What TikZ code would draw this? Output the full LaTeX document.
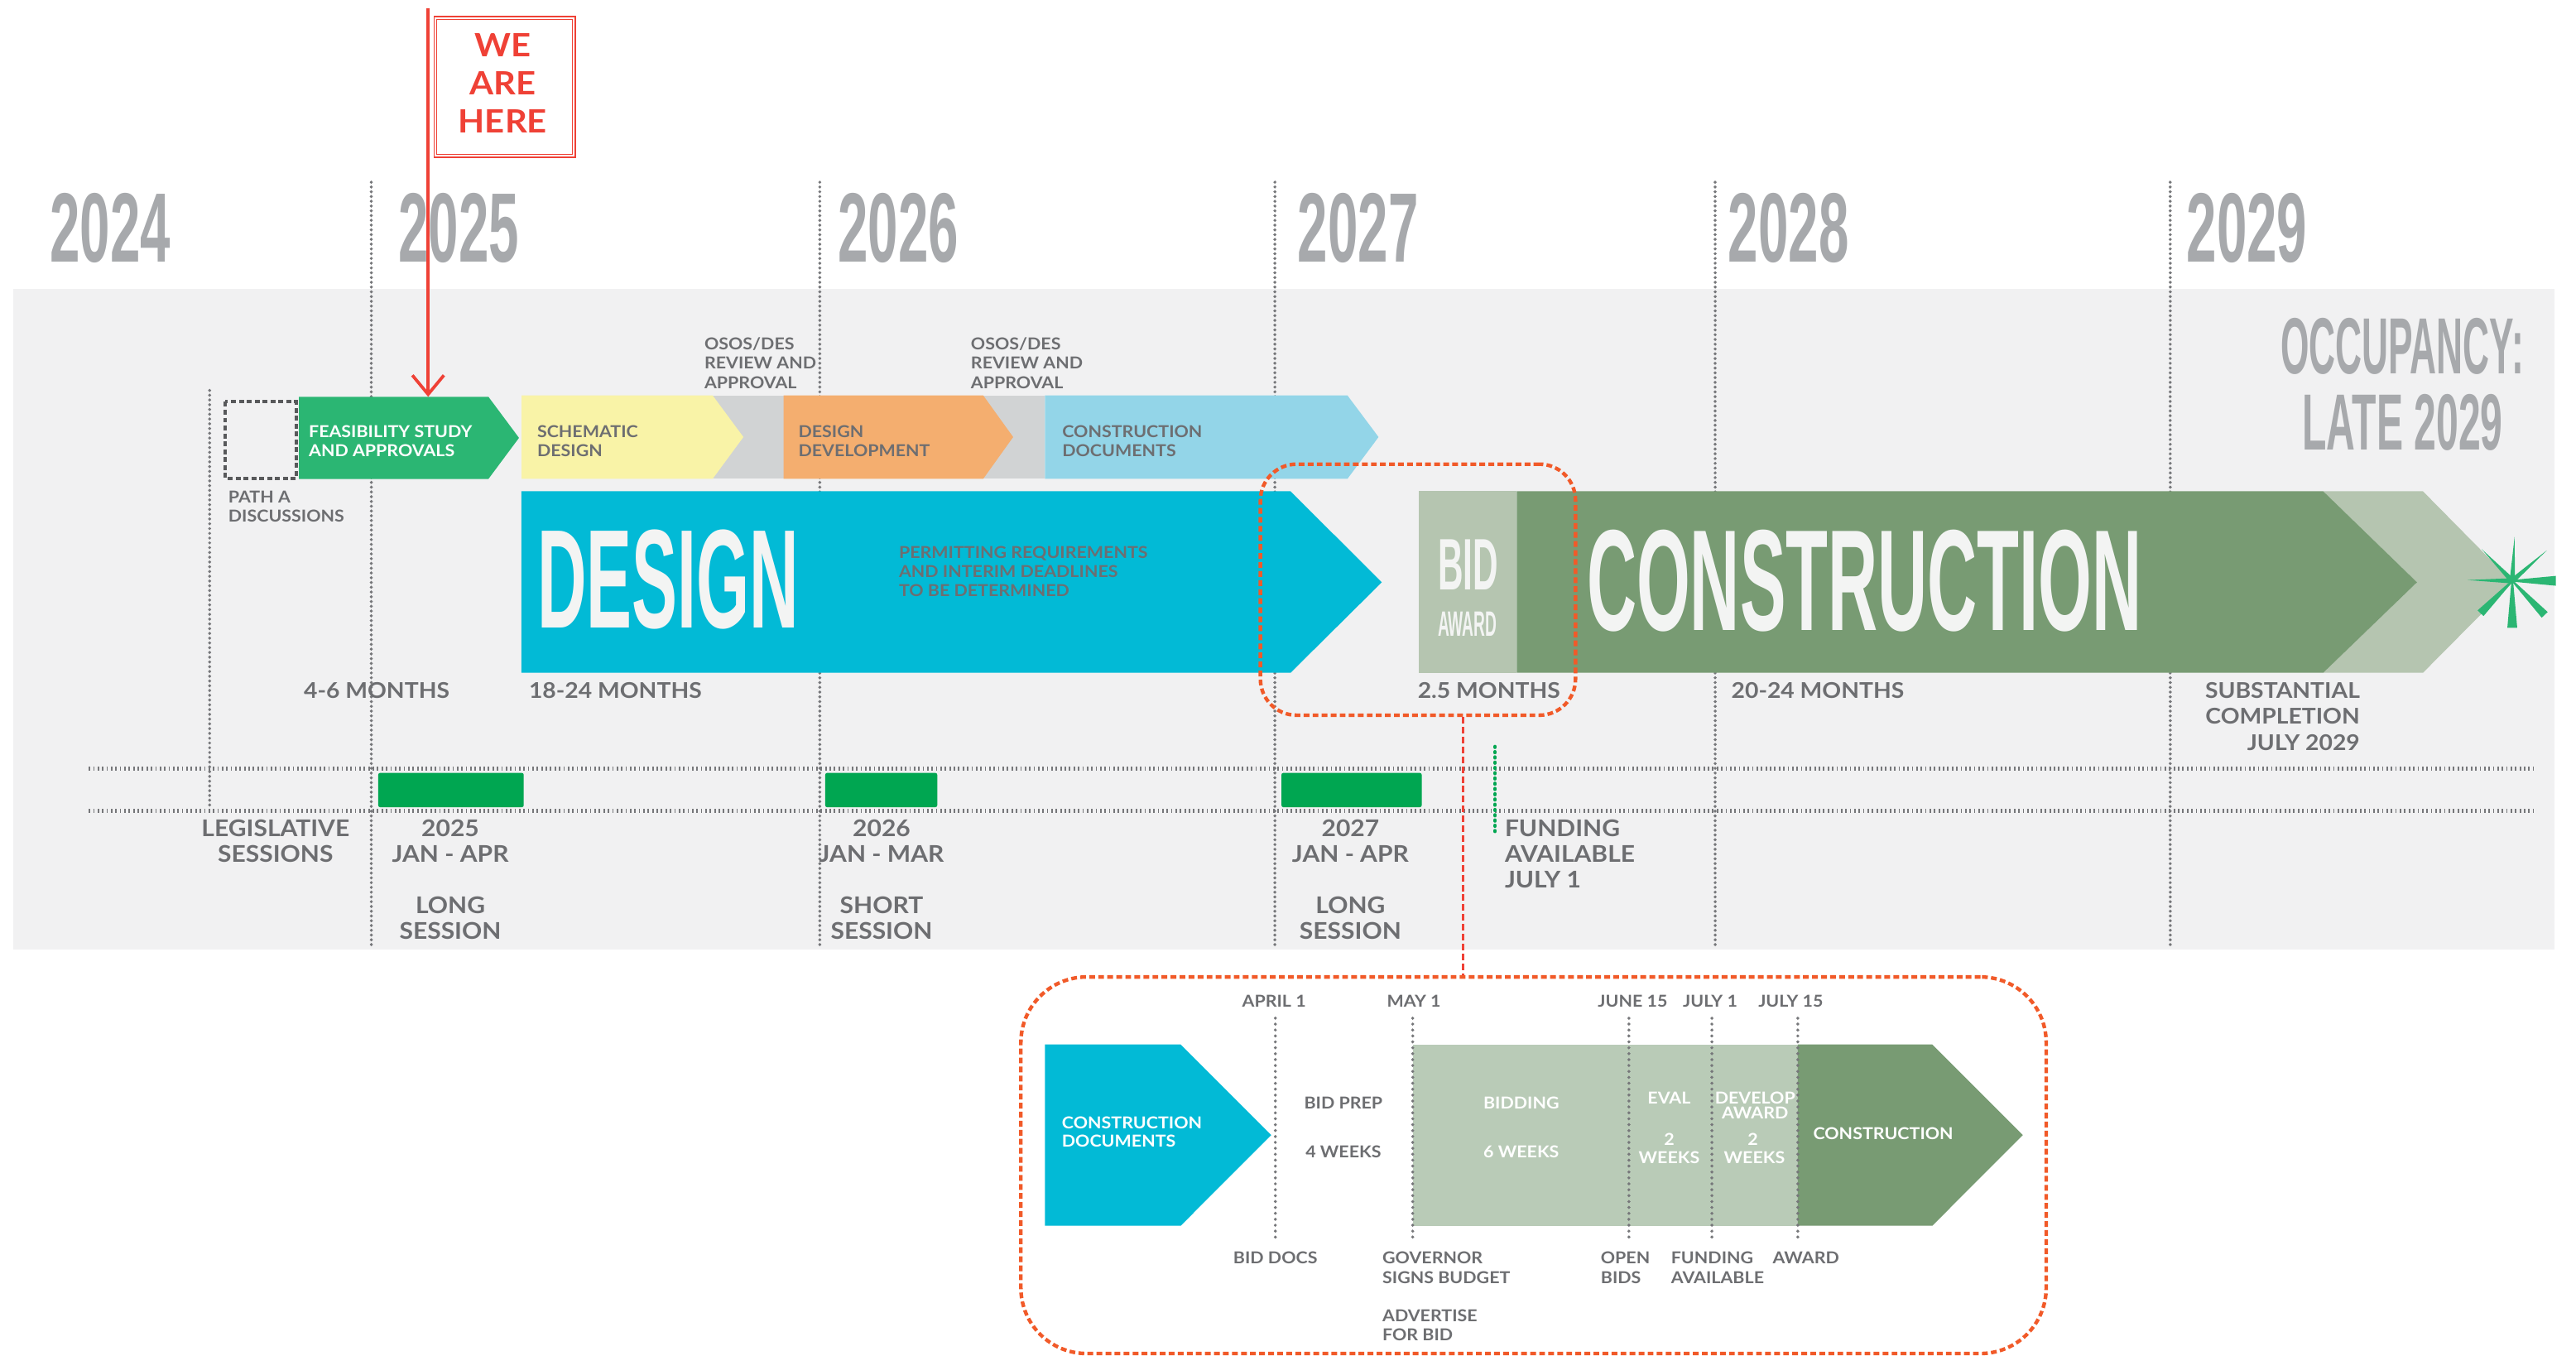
\documentclass[tikz,border=0pt]{standalone}
\usepackage{fontspec}
\usepackage{graphicx}
\setmainfont{Lato}[UprightFont={* Bold}, FakeStretch=1.08]
\newfontfamily\dispfont{Liberation Sans}[UprightFont={* Bold}]
\usetikzlibrary{calc}
\definecolor{band}{HTML}{F1F1F2}
\definecolor{yeargrey}{HTML}{A7A9AC}
\definecolor{tgrey}{HTML}{6D6E71}
\definecolor{dotgrey}{HTML}{76777A}
\definecolor{feasgreen}{HTML}{2BB673}
\definecolor{cyellow}{HTML}{F9F3A7}
\definecolor{corange}{HTML}{F4AE6F}
\definecolor{clblue}{HTML}{93D5E8}
\definecolor{chevgrey}{HTML}{D1D3D4}
\definecolor{ccyan}{HTML}{02BAD6}
\definecolor{lgreen}{HTML}{B5C5B0}
\definecolor{dgreen}{HTML}{789B73}
\definecolor{bidgreen}{HTML}{B9CBB7}
\definecolor{sessgreen}{HTML}{00A651}
\definecolor{hred}{HTML}{EF4136}
\definecolor{zoomred}{HTML}{F15A29}
\definecolor{pathgrey}{HTML}{58595B}
\definecolor{offwhite}{HTML}{F3F4F3}
\newcommand\sx[2]{\scalebox{#1}[1]{#2}}
\tikzset{
  t/.style={inner sep=0pt, outer sep=0pt, text=tgrey},
  w/.style={inner sep=0pt, outer sep=0pt, text=white},
  s10/.style={font=\fontsize{10}{12}\selectfont},
  s11/.style={font=\fontsize{10}{12}\selectfont},
  s13/.style={font=\fontsize{13.2}{15}\selectfont},
  s14/.style={font=\fontsize{14}{16}\selectfont},
  yr/.style={inner sep=0pt, outer sep=0pt, text=yeargrey, anchor=base west, font=\dispfont\fontsize{60}{60}\selectfont},
  gdot/.style={draw=dotgrey, line width=2pt, dash pattern=on 0pt off 2.9pt, line cap=round},
  hdot/.style={draw=dotgrey, line width=2.4pt, dash pattern=on 0.9pt off 1.8pt},
  ldot/.style={draw=dotgrey, line width=2pt, dash pattern=on 0pt off 3.6pt, line cap=round},
  zoombox/.style={draw=zoomred, line width=2.2pt, dash pattern=on 3.5pt off 2pt, inner sep=0pt},
  conn/.style={draw=hred, line width=1.4pt, dash pattern=on 4pt off 2pt},
}
\begin{document}
\begin{tikzpicture}[x=1pt,y=-1pt]
\useasboundingbox (0,0) rectangle (1568,825.3);
% background band
\fill[band] (8,176) rectangle (1555,578);
% years
\node[yr] (y2024) at (30.5,159.5) {\sx{0.55}{2024}};
\node[yr] (y2025) at (242.6,159.5) {\sx{0.55}{2025}};
\node[yr] (y2026) at (510,159.5) {\sx{0.55}{2026}};
\node[yr] (y2027) at (790,159.5) {\sx{0.55}{2027}};
\node[yr] (y2028) at (1052,159.5) {\sx{0.55}{2028}};
\node[yr] (y2029) at (1331,159.5) {\sx{0.55}{2029}};
% vertical dotted year lines
\foreach \xx in {226,499,776,1044,1321} {\draw[gdot] (\xx,110.9) -- (\xx,576);}
\draw[gdot] (127.6,237.6) -- (127.6,491);
% horizontal dotted lines
\draw[hdot] (54,468) -- (1542,468);
\draw[hdot] (54,493.4) -- (1542,493.4);
% green funding dotted line
\draw[draw=sessgreen, line width=2pt, dash pattern=on 0.6pt off 2.6pt, line cap=round] (910,454.3) -- (910,508);
% session bars
\fill[sessgreen, rounded corners=1.2pt] (230.2,470.4) rectangle (318.8,491.3);
\fill[sessgreen, rounded corners=1.2pt] (502.3,470.4) rectangle (570.5,491.3);
\fill[sessgreen, rounded corners=1.2pt] (780,470.4) rectangle (865.4,491.3);
% row 1 chevrons
\fill[chevgrey] (430,240.7) rectangle (477,291.4);
\fill[chevgrey] (595,240.7) rectangle (636,291.4);
\fill[feasgreen] (182,241.5) -- (297.3,241.5) -- (315.9,266.5) -- (297.3,291.5) -- (182,291.5) -- cycle;
\fill[cyellow] (317.5,240.7) -- (433.8,240.7) -- (452.5,266) -- (433.8,291.4) -- (317.5,291.4) -- cycle;
\fill[corange] (477,240.7) -- (598.5,240.7) -- (616.7,266) -- (598.5,291.4) -- (477,291.4) -- cycle;
\fill[clblue] (636,240.7) -- (820.2,240.7) -- (839.1,266) -- (820.2,291.4) -- (636,291.4) -- cycle;
\draw[draw=pathgrey, line width=2pt, dash pattern=on 3pt off 1.8pt] (137.2,244.6) rectangle (180.2,291.2);
% row 2 arrows
\fill[ccyan] (317.3,299) -- (785.5,299) -- (841.1,354.4) -- (785.5,409.5) -- (317.3,409.5) -- cycle;
\fill[lgreen] (863.6,299) rectangle (923.2,409.5);
\fill[lgreen] (1414.1,299) -- (1474.8,299) -- (1529.5,354.4) -- (1474.8,409.5) -- (1414.1,409.5) -- (1471.2,354.4) -- cycle;
\fill[dgreen] (923.2,299) -- (1414.1,299) -- (1471.2,354.4) -- (1414.1,409.5) -- (923.2,409.5) -- cycle;
% star
\begin{scope}[shift={(1529.2,353.5)}]
\foreach \a/\l in {-87/26.8,-179/27.4,-134/26.7,-41.4/28} {\fill[feasgreen] (\a+90:1.6) -- (\a:\l) -- (\a-90:1.6) -- cycle;}
\foreach \a/\l/\ww in {90/28.6/3,0/26.5/3,134.4/27.6/2.5,46.4/28.6/2.5} {\fill[feasgreen] (\a+90:0.5) -- ($(\a:\l)+(\a+90:\ww)$) -- ($(\a:\l)+(\a-90:\ww)$) -- (\a-90:0.5) -- cycle;}
\end{scope}
% row 1 texts
\node[w,s11,anchor=base west] (feas1) at (188,266.1) {FEASIBILITY STUDY};
\node[w,s11,anchor=base west] (feas2) at (188,277.7) {AND APPROVALS};
\node[t,s11,anchor=base west] (sch1) at (327,266.1) {SCHEMATIC};
\node[t,s11,anchor=base west] (sch2) at (327,277.7) {DESIGN};
\node[t,s11,anchor=base west] (dd1) at (486,266.1) {DESIGN};
\node[t,s11,anchor=base west] (dd2) at (486,277.7) {DEVELOPMENT};
\node[t,s11,anchor=base west] (cd1) at (646.6,266.1) {CONSTRUCTION};
\node[t,s11,anchor=base west] (cd2) at (646.6,277.7) {DOCUMENTS};
\node[t,s10,anchor=base west] (os1a) at (428.8,213) {OSOS/DES};
\node[t,s10,anchor=base west] (os1b) at (428.8,224.7) {REVIEW AND};
\node[t,s10,anchor=base west] (os1c) at (428.8,236.5) {APPROVAL};
\node[t,s10,anchor=base west] (os2a) at (591,213) {OSOS/DES};
\node[t,s10,anchor=base west] (os2b) at (591,224.7) {REVIEW AND};
\node[t,s10,anchor=base west] (os2c) at (591,236.5) {APPROVAL};
\node[t,s10,anchor=base west] (pa1) at (139,306) {PATH A};
\node[t,s10,anchor=base west] (pa2) at (139,317.5) {DISCUSSIONS};
% big texts
\node[inner sep=0pt, text=offwhite, anchor=base west, font=\dispfont\fontsize{85.6}{85.6}\selectfont] (design) at (327,382) {\sx{0.485}{DESIGN}};
\node[inner sep=0pt, text=offwhite, anchor=base west, font=\dispfont\fontsize{87.6}{87.6}\selectfont] (constr) at (965.7,383.7) {\sx{0.479}{CONSTRUCTION}};
\node[inner sep=0pt, text=offwhite, anchor=base west, font=\dispfont\fontsize{44.4}{44.4}\selectfont] (bid) at (875,359.2) {\sx{0.48}{BID}};
\node[inner sep=0pt, text=offwhite, anchor=base west, font=\dispfont\fontsize{21.5}{21.5}\selectfont] (award) at (875,387.2) {\sx{0.45}{AWARD}};
\node[t,s10,anchor=base west] (perm1) at (547.2,339.6) {PERMITTING REQUIREMENTS};
\node[t,s10,anchor=base west] (perm2) at (547.2,351.4) {AND INTERIM DEADLINES};
\node[t,s10,anchor=base west] (perm3) at (547.2,363.1) {TO BE DETERMINED};
\node[inner sep=0pt, text=yeargrey, anchor=base, font=\dispfont\fontsize{48.5}{48.5}\selectfont] (occ1) at (1462.2,227.5) {\sx{0.46}{OCCUPANCY:}};
\node[inner sep=0pt, text=yeargrey, anchor=base, font=\dispfont\fontsize{48.5}{48.5}\selectfont] (occ2) at (1462.4,273.8) {\sx{0.5}{LATE 2029}};
% month labels
\node[t,s13,anchor=base west] (m1) at (185,425) {4-6 MONTHS};
\node[t,s13,anchor=base west] (m2) at (322,425) {18-24 MONTHS};
\node[t,s13,anchor=base west] (m3) at (863,425) {2.5 MONTHS};
\node[t,s13,anchor=base west] (m4) at (1053.9,425) {20-24 MONTHS};
\node[t,s13,anchor=base east] (sc1) at (1436.4,424.8) {SUBSTANTIAL};
\node[t,s13,anchor=base east] (sc2) at (1436.4,440.6) {COMPLETION};
\node[t,s13,anchor=base east] (sc3) at (1436.4,456.5) {JULY 2029};
% legislative labels
\node[t,s14,anchor=base] (leg1) at (167.7,509) {LEGISLATIVE};
\node[t,s14,anchor=base] (leg2) at (167.7,524.7) {SESSIONS};
\node[t,s14,anchor=base] (s25a) at (274.1,509) {2025};
\node[t,s14,anchor=base] (s25b) at (274.1,524.7) {JAN - APR};
\node[t,s14,anchor=base] (s25c) at (274.1,556) {LONG};
\node[t,s14,anchor=base] (s25d) at (274.1,571.4) {SESSION};
\node[t,s14,anchor=base] (s26a) at (536.6,509) {2026};
\node[t,s14,anchor=base] (s26b) at (536.6,524.7) {JAN - MAR};
\node[t,s14,anchor=base] (s26c) at (536.6,556) {SHORT};
\node[t,s14,anchor=base] (s26d) at (536.6,571.4) {SESSION};
\node[t,s14,anchor=base] (s27a) at (822,509) {2027};
\node[t,s14,anchor=base] (s27b) at (822,524.7) {JAN - APR};
\node[t,s14,anchor=base] (s27c) at (822,556) {LONG};
\node[t,s14,anchor=base] (s27d) at (822,571.4) {SESSION};
\node[t,s14,anchor=base west] (fa1) at (916,509) {FUNDING};
\node[t,s14,anchor=base west] (fa2) at (916,524.7) {AVAILABLE};
\node[t,s14,anchor=base west] (fa3) at (916,540.6) {JULY 1};
% lower detail shapes
\fill[ccyan] (636,635.7) -- (718.7,635.7) -- (773.8,690.8) -- (718.7,746) -- (636,746) -- cycle;
\fill[bidgreen] (859.9,635.7) rectangle (1094.3,746);
\fill[dgreen] (1094.3,635.7) -- (1176.2,635.7) -- (1231.3,690.8) -- (1176.2,746) -- (1094.3,746) -- cycle;
\foreach \xx in {776.3,859.9,991.5,1042,1094.3} {\draw[ldot] (\xx,619.7) -- (\xx,754.8);}
% lower detail texts
\node[t,s10,anchor=base] (dApr) at (775.5,612.7) {APRIL 1};
\node[t,s10,anchor=base] (dMay) at (860.6,612.7) {MAY 1};
\node[t,s10,anchor=base] (dJun) at (993.8,612.7) {JUNE 15};
\node[t,s10,anchor=base] (dJul) at (1041,612.7) {JULY 1};
\node[t,s10,anchor=base] (dJul15) at (1090,612.7) {JULY 15};
\node[w,s10,anchor=base west] (lcd1) at (646.4,686.9) {CONSTRUCTION};
\node[w,s10,anchor=base west] (lcd2) at (646.4,698.2) {DOCUMENTS};
\node[t,s10,anchor=base] (bp1) at (817.7,674.8) {BID PREP};
\node[t,s10,anchor=base] (bp2) at (817.7,704.5) {4 WEEKS};
\node[w,s10,anchor=base] (bd1) at (926,674.8) {BIDDING};
\node[w,s10,anchor=base] (bd2) at (926,704.5) {6 WEEKS};
\node[w,s10,anchor=base] (ev1) at (1016,671.8) {EVAL};
\node[w,s10,anchor=base] (ev2) at (1016,697) {2};
\node[w,s10,anchor=base] (ev3) at (1016,708.4) {WEEKS};
\node[w,s10,anchor=base] (da1) at (1068.3,671.8) {DEVELOP};
\node[w,s10,anchor=base] (da2) at (1068.3,681) {AWARD};
\node[w,s10,anchor=base] (da3) at (1067,697) {2};
\node[w,s10,anchor=base] (da4) at (1067.9,708.4) {WEEKS};
\node[w,s10,anchor=base west] (lcon) at (1103.7,693.6) {CONSTRUCTION};
\node[t,s10,anchor=base] (bdocs) at (776.3,769.2) {BID DOCS};
\node[t,s10,anchor=base west] (gov1) at (841.5,769.2) {GOVERNOR};
\node[t,s10,anchor=base west] (gov2) at (841.5,781) {SIGNS BUDGET};
\node[t,s10,anchor=base west] (adv1) at (841.5,804.2) {ADVERTISE};
\node[t,s10,anchor=base west] (adv2) at (841.5,815.9) {FOR BID};
\node[t,s10,anchor=base west] (ob1) at (974.4,769.2) {OPEN};
\node[t,s10,anchor=base west] (ob2) at (974.4,781) {BIDS};
\node[t,s10,anchor=base west] (fu1) at (1017.2,769.2) {FUNDING};
\node[t,s10,anchor=base west] (fu2) at (1017.2,781) {AVAILABLE};
\node[t,s10,anchor=base west] (aw) at (1079,769.2) {AWARD};
% zoom boxes and connector
\node[zoombox, rounded corners=22pt, minimum width=191.8pt, minimum height=152.8pt] (zoomA) at (863.1,358.9) {};
\node[zoombox, rounded corners=40pt, minimum width=624.1pt, minimum height=229.2pt] (zoomB) at (933.45,709.2) {};
\coordinate (cx) at (890.5,0);
\draw[conn] (zoomA.south -| cx) -- (zoomB.north -| cx);
% we are here
\node[draw=hred, double=white, double distance=1pt, line width=0.7pt, minimum width=84.3pt, minimum height=83.9pt, inner sep=0pt] (hereBox) at (307.15,52.95) {};
\node[inner sep=0pt, text=hred, anchor=base, font=\fontsize{19.5}{20}\selectfont] (we) at (306,34.7) {WE};
\node[inner sep=0pt, text=hred, anchor=base, font=\fontsize{19.5}{20}\selectfont] (are) at (306,57.8) {ARE};
\node[inner sep=0pt, text=hred, anchor=base, font=\fontsize{19.5}{20}\selectfont] (here) at (306,81) {HERE};
\coordinate (hereTop) at (260.6,4.8);
\coordinate (feasTop) at (260.6,240);
\draw[hred, line width=1.9pt] (hereTop) -- (feasTop);
\draw[hred, line width=1.9pt] ($(feasTop)+(-9.6,-11.6)$) -- (feasTop) -- ($(feasTop)+(9.6,-11.6)$);
\end{tikzpicture}
\end{document}
